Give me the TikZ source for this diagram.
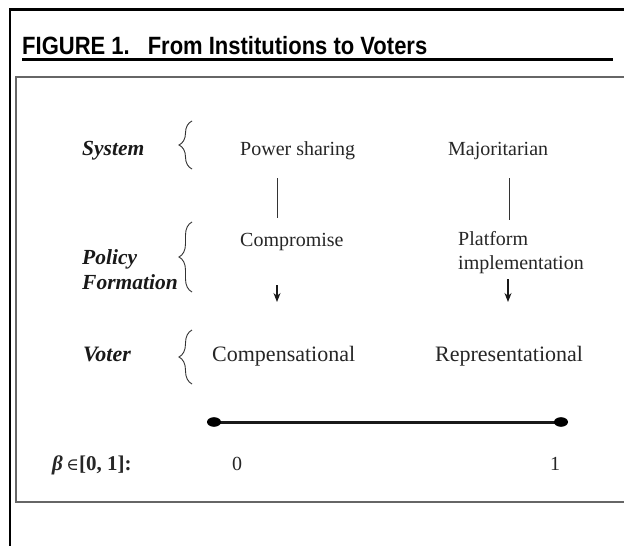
\documentclass[tikz,border=0pt]{standalone}
\usepackage{fontspec}
\setmainfont{Liberation Serif}
\newfontfamily\titlefont[FakeStretch=0.88]{Liberation Sans}
\newfontfamily\mysymfont{DejaVu Serif}
\usetikzlibrary{decorations.pathreplacing,arrows.meta}
\begin{document}
\begin{tikzpicture}[x=1pt,y=-1pt,
 txt/.style={font=\fontsize{20}{22}\selectfont, text=black!85, inner sep=0pt, anchor=base west},
 bigtxt/.style={txt, font=\fontsize{22}{24}\selectfont},
 lab/.style={font=\fontsize{21.5}{24}\selectfont\bfseries\itshape, text=black!90, inner sep=0pt, anchor=base west},
 brc/.style={decorate, decoration={brace, amplitude=13pt}, line width=0.9pt, black!80},
 conn/.style={line width=1pt, black!80},
 arr/.style={line width=1.1pt, black!90, -{Stealth[length=9pt,width=7pt]}},
 frame/.style={line width=2.5pt, black},
 inner/.style={line width=1.5pt, black!60}]
\useasboundingbox (0,0) rectangle (624,546);
\fill[white] (0,0) rectangle (624,546);
% outer frame
\draw[frame] (10,546) -- (10,9.5) -- (624,9.5);
% title
\node[anchor=base west, inner sep=0pt, font=\titlefont\fontsize{25}{27}\selectfont\bfseries] (title) at (22,54) {FIGURE 1.\hspace{18pt}From Institutions to Voters};
\draw[line width=2.2pt] (22,59.5) -- (613,59.5);
% inner box
\draw[inner] (624,77) -- (16,77) -- (16,502) -- (624,502);
% row labels
\node[lab] (sys) at (82,155) {System};
\node[lab] (pol) at (82,264) {Policy};
\node[lab] (form) at (82,289) {Formation};
\node[lab, font=\fontsize{22}{24}\selectfont\bfseries\itshape] (vot) at (83,361) {Voter};
% braces
\draw[brc] (192,169) -- (192,121);
\draw[brc] (192,292) -- (192,222);
\draw[brc] (192,384) -- (192,330);
% column texts
\node[txt] (ps) at (240,155) {Power sharing};
\node[txt] (maj) at (448,155) {Majoritarian};
\node[txt] (comp) at (240,246) {Compromise};
\node[txt] (plat) at (458,245) {Platform};
\node[txt] (impl) at (458,269) {implementation};
\node[bigtxt] (cmps) at (212,361) {Compensational};
\node[bigtxt] (repr) at (435,361) {Representational};
% connectors
\coordinate (l1a) at (277,178); \coordinate (l1b) at (277,218);
\coordinate (l2a) at (509,178); \coordinate (l2b) at (509,220);
\draw[conn] (l1a) -- (l1b);
\draw[conn] (l2a) -- (l2b);
\coordinate (a1a) at (277,285); \coordinate (a1b) at (277,302);
\coordinate (a2a) at (508,279); \coordinate (a2b) at (508,302);
\draw[arr] (a1a) -- (a1b);
\draw[arr] (a2a) -- (a2b);
% beta scale
\coordinate (d0) at (214,422); \coordinate (d1) at (561,422);
\draw[line width=3pt, black!90] (d0) -- (d1);
\fill[black] (d0) ellipse [x radius=7pt, y radius=4.8pt];
\fill[black] (d1) ellipse [x radius=7pt, y radius=4.8pt];
\node[txt, font=\fontsize{21}{23}\selectfont] (beta) at (52,470) {{\bfseries\itshape β}\,{\mysymfont\fontsize{17}{19}\selectfont ∈}{\bfseries [0, 1]:}};
\node[txt, anchor=base] (zero) at (237,470) {0};
\node[txt, anchor=base] (one) at (555,470) {1};
\end{tikzpicture}
\end{document}
